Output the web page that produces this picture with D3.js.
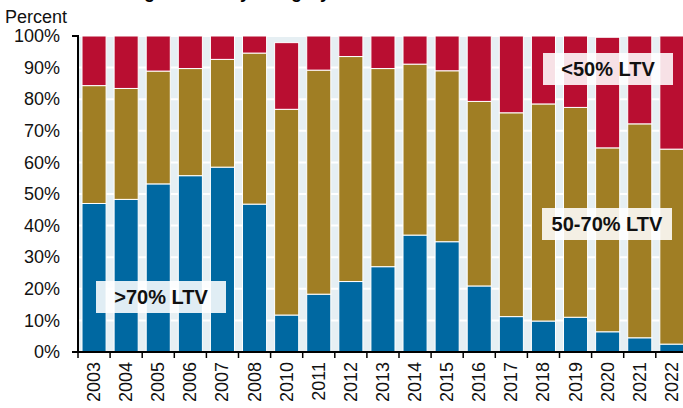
<!DOCTYPE html>
<meta charset="utf-8">
<script src="https://d3js.org/d3.v7.min.js"></script>
<style>
  body { margin: 0; background: #fff; }
  text { font-family: "Liberation Sans", Arial, sans-serif; }
</style>
<div id="chart"></div>
<script>

// years on the x axis (no 2009 in the source)
const years = ["2003","2004","2005","2006","2007","2008","2010","2011","2012","2013",
               "2014","2015","2016","2017","2018","2019","2020","2021","2022"];

// share of loans by LTV bucket, percent
const above70 = [47.0,48.3,53.2,55.8,58.5,46.8,11.7,18.3,22.3,27.0,37.0,34.9,20.9,11.2,9.8,11.0,6.4,4.5,2.5];
const mid5070 = [37.3,35.1,35.7,33.9,34.1,47.8,65.1,70.9,71.2,62.7,54.1,54.1,58.4,64.5,68.7,66.4,58.2,67.7,61.7];
const below50 = [15.7,16.6,11.1,10.3,7.4,5.4,21.1,10.8,6.5,10.3,8.9,11.0,20.7,24.3,21.5,22.6,35.0,27.8,35.8];

const yTicks = [0,10,20,30,40,50,60,70,80,90,100];

const W = 683, H = 408;
const plotL = 78, plotT = 36, plotB = 352, plotR = 78 + 19 * 32.1;

const svg = d3.select("#chart").append("svg")
    .attr("width", W)
    .attr("height", H);

const x = d3.scaleBand()
    .domain(years)
    .range([plotL, plotR])
    .paddingInner(0.25)
    .paddingOuter(0.125);

const y = d3.scaleLinear()
    .domain([0, 100])
    .range([plotB, plotT]);

// plot background
svg.append("rect")
    .attr("x", plotL).attr("y", plotT)
    .attr("width", plotR - plotL).attr("height", plotB - plotT)
    .attr("fill", "#e6eff3");

// white gridlines
svg.append("g")
  .selectAll("line")
  .data(yTicks.slice(1))
  .join("line")
    .attr("x1", plotL).attr("x2", plotR)
    .attr("y1", d => y(d)).attr("y2", d => y(d))
    .attr("stroke", "#fff")
    .attr("stroke-width", 2);

// stack the three buckets
const data = years.map((yr, i) => ({year: yr, a: above70[i], m: mid5070[i], b: below50[i]}));
const keys = ["a", "m", "b"];
const color = {a: "#0068a1", m: "#a07e24", b: "#b90e31"};
const stacked = d3.stack().keys(keys)(data);

svg.append("g")
  .selectAll("g")
  .data(stacked)
  .join("g")
    .attr("fill", d => color[d.key])
  .selectAll("rect")
  .data(d => d)
  .join("rect")
    .attr("x", d => x(d.data.year))
    .attr("y", d => y(d[1]))
    .attr("width", x.bandwidth())
    .attr("height", d => y(d[0]) - y(d[1]))
    .attr("stroke", "#fff")
    .attr("stroke-width", 1);

// y axis
const yAxis = svg.append("g")
    .attr("transform", `translate(${plotL},0)`)
    .call(d3.axisLeft(y).tickValues(yTicks).tickFormat(d => d + "%").tickSize(0).tickPadding(18));
yAxis.select(".domain").remove();
yAxis.selectAll("text")
    .attr("font-size", 18)
    .attr("fill", "#111")
    .style("font-family", "'Liberation Sans', Arial, sans-serif");
svg.append("path")
    .attr("d", `M${plotL - 6},${plotT}H${plotL}V${plotB}`)
    .attr("fill", "none")
    .attr("stroke", "#000")
    .attr("stroke-width", 2);

// x axis: ticks at band boundaries
const step = x.step();
const bounds = d3.range(years.length + 1).map(i => plotL + i * step);
svg.append("line")
    .attr("x1", plotL - 6).attr("x2", plotR)
    .attr("y1", plotB).attr("y2", plotB)
    .attr("stroke", "#000").attr("stroke-width", 2);
svg.append("g")
  .selectAll("line")
  .data(bounds)
  .join("line")
    .attr("x1", d => d).attr("x2", d => d)
    .attr("y1", plotB).attr("y2", plotB + 6)
    .attr("stroke", "#000").attr("stroke-width", 1.5);

svg.append("g")
  .selectAll("text")
  .data(years)
  .join("text")
    .attr("transform", d => `translate(${x(d) + x.bandwidth() / 2 + 6},${plotB + 10}) rotate(-90)`)
    .attr("text-anchor", "end")
    .attr("font-size", 18)
    .attr("fill", "#111")
    .text(d => d);

// title (cropped at the top edge, as in the source) and unit label
svg.append("text")
    .attr("x", 330).attr("y", -2)
    .attr("text-anchor", "end")
    .attr("font-size", 18)
    .attr("font-weight", "bold")
    .text("Originations by category");

svg.append("text")
    .attr("x", 5).attr("y", 23)
    .attr("font-size", 18)
    .attr("fill", "#111")
    .text("Percent");

// in-chart labels
const labels = [
  {t: ">70% LTV", x: 161, y: 297},
  {t: "<50% LTV", x: 608, y: 69},
  {t: "50-70% LTV", x: 607, y: 224}
];
const lg = svg.append("g")
  .selectAll("g")
  .data(labels)
  .join("g")
    .attr("transform", d => `translate(${d.x},${d.y})`);
lg.append("rect")
    .attr("x", -65).attr("y", -16)
    .attr("width", 130).attr("height", 32)
    .attr("fill", "#fff")
    .attr("fill-opacity", 0.88);
lg.append("text")
    .attr("text-anchor", "middle")
    .attr("dy", "0.36em")
    .attr("font-size", 20)
    .attr("font-weight", "bold")
    .attr("fill", "#111")
    .text(d => d.t);

</script>
